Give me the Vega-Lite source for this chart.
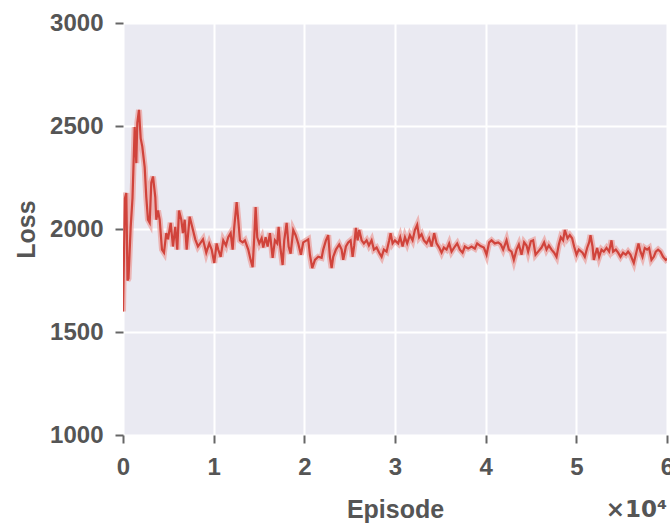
{
  "$schema": "https://vega.github.io/schema/vega-lite/v6.json",
  "width": 544,
  "height": 412,
  "autosize": {"type": "none"},
  "padding": {"left": 123, "top": 23, "right": 3, "bottom": 90},
  "config": {
    "view": {"fill": "#EAEAF2", "stroke": null},
    "font": "Liberation Sans",
    "axis": {
      "labelFont": "Liberation Sans", "labelFontWeight": "bold", "labelFontSize": 24, "labelColor": "#555555",
      "titleFont": "Liberation Sans", "titleFontWeight": "bold", "titleFontSize": 25, "titleColor": "#555555",
      "gridColor": "#FFFFFF", "gridWidth": 2, "gridOpacity": 1,
      "tickColor": "#666666", "tickWidth": 2, "tickSize": 8,
      "domain": false
    }
  },
  "title": {"text": "×10⁴", "orient": "bottom", "anchor": "end", "frame": "group", "font": "DejaVu Sans", "fontSize": 23, "fontWeight": "bold", "color": "#555555", "offset": -23},
  "data": {"values": [
    {"e":0,"loss":1600},{"e":220,"loss":2150},{"e":364,"loss":2175},{"e":496,"loss":1750},{"e":606,"loss":1760},{"e":849,"loss":2010},{"e":1047,"loss":2150},{"e":1290,"loss":2495},{"e":1466,"loss":2320},{"e":1577,"loss":2515},{"e":1764,"loss":2578},{"e":1951,"loss":2440},{"e":2128,"loss":2400},{"e":2392,"loss":2300},{"e":2569,"loss":2155},{"e":2756,"loss":2045},{"e":2944,"loss":2030},{"e":3120,"loss":2225},{"e":3308,"loss":2255},{"e":3561,"loss":2155},{"e":3671,"loss":2045},{"e":3859,"loss":2090},{"e":4046,"loss":2045},{"e":4300,"loss":1900},{"e":4520,"loss":1885},{"e":4774,"loss":1980},{"e":4961,"loss":1950},{"e":5259,"loss":2030},{"e":5513,"loss":1915},{"e":5766,"loss":2010},{"e":5987,"loss":1900},{"e":6174,"loss":2090},{"e":6428,"loss":2045},{"e":6615,"loss":1980},{"e":6802,"loss":2045},{"e":7023,"loss":1900},{"e":7354,"loss":2060},{"e":7718,"loss":1995},{"e":7971,"loss":1950},{"e":8269,"loss":1915},{"e":8820,"loss":1950},{"e":9184,"loss":1885},{"e":9515,"loss":1930},{"e":9779,"loss":1900},{"e":10066,"loss":1835},{"e":10330,"loss":1930},{"e":10507,"loss":1900},{"e":10771,"loss":1865},{"e":11058,"loss":1945},{"e":11356,"loss":1920},{"e":11609,"loss":1960},{"e":11874,"loss":1980},{"e":12094,"loss":1900},{"e":12271,"loss":2010},{"e":12535,"loss":2130},{"e":12712,"loss":2045},{"e":12899,"loss":1945},{"e":13197,"loss":1935},{"e":13450,"loss":1945},{"e":13814,"loss":1900},{"e":14079,"loss":1850},{"e":14299,"loss":1815},{"e":14476,"loss":1960},{"e":14630,"loss":2107},{"e":14807,"loss":1960},{"e":15027,"loss":1930},{"e":15292,"loss":1955},{"e":15468,"loss":1910},{"e":15733,"loss":1960},{"e":15953,"loss":1915},{"e":16207,"loss":1980},{"e":16504,"loss":1860},{"e":16758,"loss":1945},{"e":17012,"loss":1930},{"e":17166,"loss":2010},{"e":17342,"loss":1915},{"e":17607,"loss":1825},{"e":17783,"loss":1945},{"e":18048,"loss":2030},{"e":18269,"loss":1915},{"e":18489,"loss":1880},{"e":18776,"loss":1995},{"e":19040,"loss":1970},{"e":19327,"loss":1930},{"e":19625,"loss":1875},{"e":19878,"loss":1935},{"e":20253,"loss":1945},{"e":20429,"loss":1950},{"e":20617,"loss":1875},{"e":20870,"loss":1810},{"e":21168,"loss":1850},{"e":21532,"loss":1865},{"e":21907,"loss":1860},{"e":22083,"loss":1900},{"e":22381,"loss":1945},{"e":22635,"loss":1970},{"e":22822,"loss":1865},{"e":23009,"loss":1810},{"e":23186,"loss":1865},{"e":23483,"loss":1900},{"e":23847,"loss":1925},{"e":24112,"loss":1900},{"e":24288,"loss":1850},{"e":24586,"loss":1915},{"e":24840,"loss":1935},{"e":25104,"loss":1945},{"e":25325,"loss":1865},{"e":25501,"loss":1920},{"e":25688,"loss":2005},{"e":25876,"loss":1945},{"e":26052,"loss":1995},{"e":26317,"loss":1945},{"e":26570,"loss":1930},{"e":26868,"loss":1945},{"e":27122,"loss":1920},{"e":27419,"loss":1945},{"e":27673,"loss":1900},{"e":27970,"loss":1910},{"e":28257,"loss":1885},{"e":28522,"loss":1865},{"e":28775,"loss":1900},{"e":29073,"loss":1890},{"e":29360,"loss":1945},{"e":29514,"loss":1980},{"e":29735,"loss":1930},{"e":29988,"loss":1945},{"e":30352,"loss":1930},{"e":30573,"loss":1960},{"e":30837,"loss":1915},{"e":31095,"loss":1960},{"e":31343,"loss":1930},{"e":31642,"loss":1970},{"e":31939,"loss":1945},{"e":32193,"loss":1995},{"e":32447,"loss":2020},{"e":32667,"loss":1960},{"e":32932,"loss":1975},{"e":33185,"loss":1945},{"e":33483,"loss":1930},{"e":33770,"loss":1955},{"e":34034,"loss":1915},{"e":34321,"loss":1980},{"e":34585,"loss":1930},{"e":34872,"loss":1910},{"e":35137,"loss":1885},{"e":35390,"loss":1910},{"e":35688,"loss":1900},{"e":35975,"loss":1930},{"e":36239,"loss":1890},{"e":36603,"loss":1915},{"e":36857,"loss":1930},{"e":37154,"loss":1900},{"e":37452,"loss":1885},{"e":37706,"loss":1915},{"e":38069,"loss":1905},{"e":38444,"loss":1915},{"e":38808,"loss":1905},{"e":39062,"loss":1930},{"e":39436,"loss":1917},{"e":39800,"loss":1910},{"e":40098,"loss":1875},{"e":40384,"loss":1935},{"e":40649,"loss":1945},{"e":41013,"loss":1930},{"e":41377,"loss":1935},{"e":41675,"loss":1925},{"e":41928,"loss":1900},{"e":42303,"loss":1945},{"e":42556,"loss":1900},{"e":42854,"loss":1890},{"e":43108,"loss":1850},{"e":43405,"loss":1900},{"e":43659,"loss":1925},{"e":43956,"loss":1875},{"e":44243,"loss":1935},{"e":44508,"loss":1920},{"e":44684,"loss":1890},{"e":44982,"loss":1940},{"e":45236,"loss":1945},{"e":45500,"loss":1875},{"e":45787,"loss":1890},{"e":46162,"loss":1910},{"e":46448,"loss":1935},{"e":46713,"loss":1900},{"e":46967,"loss":1920},{"e":47264,"loss":1900},{"e":47551,"loss":1885},{"e":47815,"loss":1865},{"e":48069,"loss":1925},{"e":48290,"loss":1960},{"e":48543,"loss":1945},{"e":48731,"loss":1995},{"e":49028,"loss":1955},{"e":49282,"loss":1970},{"e":49536,"loss":1955},{"e":49756,"loss":1915},{"e":50021,"loss":1875},{"e":50274,"loss":1900},{"e":50682,"loss":1885},{"e":50936,"loss":1865},{"e":51190,"loss":1908},{"e":51410,"loss":1935},{"e":51564,"loss":1970},{"e":51785,"loss":1915},{"e":51928,"loss":1850},{"e":52148,"loss":1885},{"e":52292,"loss":1908},{"e":52512,"loss":1865},{"e":52777,"loss":1900},{"e":53030,"loss":1890},{"e":53328,"loss":1908},{"e":53615,"loss":1890},{"e":53879,"loss":1945},{"e":54056,"loss":1890},{"e":54353,"loss":1900},{"e":54607,"loss":1885},{"e":54872,"loss":1865},{"e":55158,"loss":1885},{"e":55456,"loss":1875},{"e":55709,"loss":1890},{"e":55974,"loss":1875},{"e":56194,"loss":1850},{"e":56338,"loss":1835},{"e":56635,"loss":1890},{"e":56856,"loss":1930},{"e":57076,"loss":1890},{"e":57297,"loss":1865},{"e":57551,"loss":1908},{"e":57805,"loss":1900},{"e":58025,"loss":1908},{"e":58289,"loss":1850},{"e":58543,"loss":1865},{"e":58763,"loss":1890},{"e":59017,"loss":1900},{"e":59282,"loss":1890},{"e":59568,"loss":1865},{"e":59866,"loss":1850},{"e":60000,"loss":1855}
  ]},
  "encoding": {
    "x": {"field": "e", "type": "quantitative",
      "scale": {"domain": [0, 60000], "nice": false},
      "axis": {"title": "Episode", "values": [0, 10000, 20000, 30000, 40000, 50000, 60000], "labelExpr": "datum.value / 10000", "labelPadding": 12, "titlePadding": 18, "labelFlush": false}},
    "y": {"field": "loss", "type": "quantitative",
      "scale": {"domain": [1000, 3000], "nice": false},
      "axis": {"title": "Loss", "values": [1000, 1500, 2000, 2500, 3000], "format": "d", "labelPadding": 12, "titlePadding": 10}}
  },
  "layer": [
    {"mark": {"type": "line", "color": "#EBA3A0", "strokeWidth": 6, "opacity": 0.75, "clip": true}},
    {"mark": {"type": "line", "color": "#D0433B", "strokeWidth": 2.2, "clip": true}}
  ]
}
